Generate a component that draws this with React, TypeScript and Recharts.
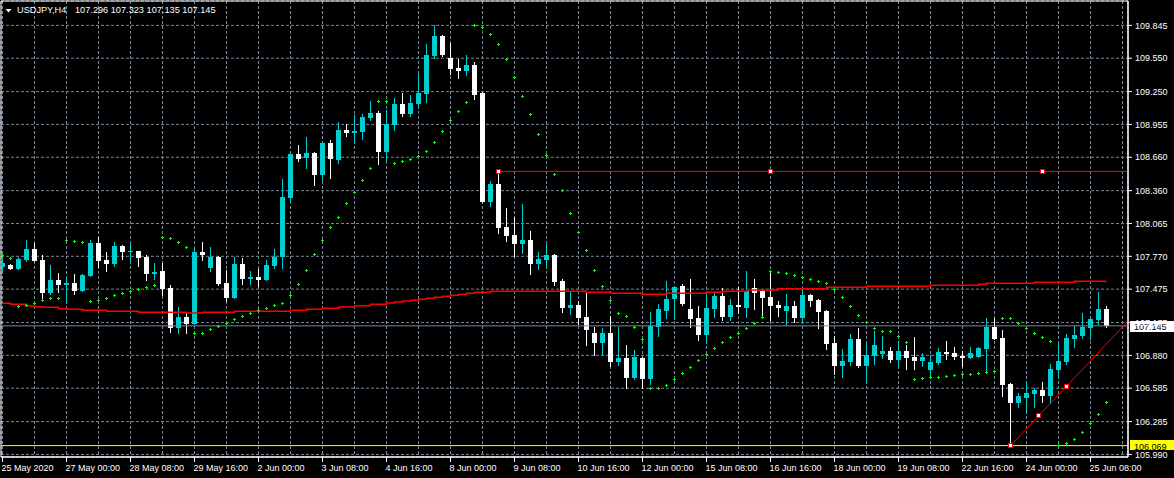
import React from 'react';
import {
  ComposedChart, Bar, Line, Scatter, XAxis, YAxis, CartesianGrid,
  ReferenceLine, ReferenceDot, ReferenceArea,
} from 'recharts';

// ---------- data (USDJPY, H4) ----------
const opens = [
  107.671, 107.692, 107.656, 107.737, 107.836, 107.737, 107.437, 107.557, 107.515, 107.533,
  107.458, 107.596, 107.893, 107.737, 107.701, 107.863, 107.809, 107.818, 107.767, 107.614,
  107.638, 107.485, 107.126, 107.224, 107.165, 107.809, 107.668, 107.767, 107.533, 107.398,
  107.701, 107.566, 107.584, 107.557, 107.683, 107.767, 108.297, 108.689, 108.656, 108.698,
  108.501, 108.788, 108.635, 108.905, 108.878, 108.887, 109.013, 109.058, 108.707, 108.950,
  109.139, 109.049, 109.139, 109.228, 109.570, 109.750, 109.552, 109.462, 109.435, 109.489,
  109.237, 108.261, 108.420, 108.033, 107.961, 107.883, 107.917, 107.704, 107.740, 107.782,
  107.548, 107.306, 107.333, 107.221, 107.084, 106.994, 107.084, 106.823, 106.859, 106.673,
  106.859, 106.664, 107.138, 107.283, 107.387, 107.503, 107.297, 107.216, 107.063, 107.297,
  107.414, 107.225, 107.333, 107.306, 107.485, 107.458, 107.404, 107.333, 107.279, 107.324,
  107.216, 107.422, 107.378, 107.279, 106.991, 106.785, 106.820, 107.027, 106.785, 106.874,
  106.892, 106.919, 106.838, 106.919, 106.865, 106.829, 106.749, 106.811, 106.910, 106.901,
  106.874, 106.856, 106.865, 106.940, 107.138, 107.036, 106.623, 106.452, 106.497, 106.533,
  106.569, 106.515, 106.749, 106.820, 107.027, 107.054, 107.126, 107.198, 107.296,
];
const highs = [
  107.746, 107.697, 107.767, 107.917, 107.893, 107.782, 107.692, 107.623, 107.587, 107.611,
  107.607, 107.917, 107.947, 107.809, 107.899, 107.872, 107.893, 107.822, 107.782, 107.713,
  107.713, 107.512, 107.318, 107.260, 107.842, 107.896, 107.857, 107.773, 107.647, 107.767,
  107.755, 107.638, 107.656, 107.737, 107.839, 108.465, 108.695, 108.770, 108.842, 108.703,
  108.793, 108.815, 108.977, 108.959, 109.040, 109.049, 109.166, 109.076, 109.085, 109.193,
  109.237, 109.220, 109.417, 109.678, 109.848, 109.759, 109.687, 109.543, 109.579, 109.516,
  109.246, 108.447, 108.534, 108.204, 108.123, 108.240, 107.998, 107.809, 107.881, 107.791,
  107.566, 107.450, 107.369, 107.443, 107.138, 107.129, 107.237, 107.138, 106.976, 106.925,
  106.865, 107.270, 107.345, 107.551, 107.503, 107.521, 107.566, 107.324, 107.449, 107.449,
  107.485, 107.387, 107.494, 107.638, 107.566, 107.467, 107.638, 107.369, 107.431, 107.369,
  107.467, 107.431, 107.382, 107.288, 107.054, 106.937, 107.072, 107.126, 106.991, 107.099,
  107.054, 106.955, 107.000, 106.973, 107.045, 106.901, 106.883, 106.946, 107.009, 106.955,
  106.919, 106.955, 106.955, 107.216, 107.216, 107.108, 106.632, 106.542, 106.641, 106.587,
  106.641, 106.803, 106.982, 107.072, 107.144, 107.261, 107.216, 107.449, 107.323,
];
const lows = [
  107.647, 107.652, 107.652, 107.728, 107.724, 107.392, 107.431, 107.452, 107.356, 107.428,
  107.454, 107.593, 107.671, 107.641, 107.683, 107.749, 107.707, 107.683, 107.560, 107.566,
  107.422, 107.093, 107.077, 107.077, 107.162, 107.737, 107.641, 107.512, 107.372, 107.395,
  107.521, 107.521, 107.500, 107.553, 107.662, 107.668, 108.255, 108.626, 108.567, 108.414,
  108.456, 108.474, 108.608, 108.854, 108.791, 108.824, 108.995, 108.599, 108.635, 108.905,
  109.031, 109.031, 109.112, 109.157, 109.552, 109.570, 109.408, 109.372, 109.399, 109.184,
  108.258, 108.225, 107.982, 107.910, 107.776, 107.803, 107.614, 107.659, 107.677, 107.515,
  107.270, 107.252, 107.158, 106.976, 106.886, 106.886, 106.787, 106.796, 106.587, 106.668,
  106.583, 106.626, 107.057, 107.212, 107.207, 107.333, 107.138, 107.018, 106.991, 107.225,
  107.198, 107.198, 107.261, 107.225, 107.297, 107.243, 107.198, 107.234, 107.153, 107.180,
  107.180, 107.324, 107.126, 106.937, 106.713, 106.686, 106.793, 106.775, 106.641, 106.802,
  106.856, 106.820, 106.784, 106.757, 106.757, 106.784, 106.694, 106.806, 106.847, 106.847,
  106.784, 106.852, 106.861, 106.734, 107.023, 106.515, 106.069, 106.416, 106.362, 106.416,
  106.461, 106.452, 106.686, 106.803, 106.955, 107.036, 107.027, 107.162, 107.135,
];
const closes = [
  107.707, 107.656, 107.746, 107.836, 107.728, 107.443, 107.557, 107.512, 107.533, 107.461,
  107.602, 107.887, 107.728, 107.701, 107.863, 107.809, 107.818, 107.758, 107.614, 107.629,
  107.476, 107.126, 107.224, 107.165, 107.809, 107.785, 107.767, 107.521, 107.398, 107.701,
  107.566, 107.584, 107.557, 107.692, 107.767, 108.303, 108.689, 108.644, 108.698, 108.503,
  108.788, 108.644, 108.905, 108.878, 108.896, 109.022, 109.058, 108.707, 108.959, 109.139,
  109.049, 109.148, 109.237, 109.579, 109.750, 109.579, 109.453, 109.435, 109.489, 109.220,
  108.261, 108.420, 108.027, 107.955, 107.883, 107.917, 107.704, 107.746, 107.782, 107.542,
  107.306, 107.333, 107.212, 107.111, 106.994, 107.084, 106.823, 106.859, 106.673, 106.868,
  106.664, 107.147, 107.301, 107.390, 107.494, 107.342, 107.207, 107.063, 107.306, 107.414,
  107.225, 107.333, 107.315, 107.458, 107.440, 107.395, 107.324, 107.306, 107.324, 107.216,
  107.422, 107.369, 107.270, 106.982, 106.785, 106.829, 107.027, 106.785, 106.883, 106.973,
  106.919, 106.838, 106.919, 106.856, 106.829, 106.865, 106.820, 106.910, 106.892, 106.865,
  106.856, 106.901, 106.946, 107.138, 107.027, 106.614, 106.452, 106.515, 106.542, 106.569,
  106.515, 106.758, 106.829, 107.036, 107.063, 107.135, 107.207, 107.297, 107.145,
];
const sarValues = [
  107.773, 107.748, 107.321, 107.330, 107.348, 107.372, 107.389, 107.389, 107.914, 107.905,
  107.896, 107.360, 107.375, 107.389, 107.420, 107.438, 107.456, 107.474, 107.492, 107.510,
  107.941, 107.932, 107.896, 107.851, 107.078, 107.078, 107.114, 107.141, 107.168, 107.204,
  107.231, 107.258, 107.285, 107.303, 107.330, 107.348, 107.420, 107.519, 107.644, 107.788,
  107.914, 108.031, 108.121, 108.246, 108.345, 108.453, 108.561, 109.163, 109.163, 108.606,
  108.624, 108.642, 108.669, 108.714, 108.794, 108.893, 108.992, 109.073, 109.154, 109.846,
  109.828, 109.765, 109.675, 109.540, 109.378, 109.210, 109.040, 108.860, 108.680, 108.507,
  108.357, 108.157, 107.980, 107.818, 107.644, 107.500, 107.375, 107.258, 107.231, 107.132,
  107.024, 106.584, 106.584, 106.611, 106.665, 106.719, 106.773, 106.836, 106.886, 106.944,
  106.998, 107.043, 107.078, 107.123, 107.168, 107.222, 107.635, 107.626, 107.617, 107.599,
  107.581, 107.563, 107.545, 107.527, 107.473, 107.402, 107.321, 107.240, 107.177, 107.123,
  107.096, 107.096, 107.051, 106.997, 106.665, 106.674, 106.683, 106.683, 106.692, 106.701,
  106.710, 106.710, 106.719, 106.728, 106.737, 107.213, 107.213, 107.168, 107.123, 107.078,
  107.042, 107.006, 106.072, 106.090, 106.126, 106.189, 106.270, 106.351, 106.458,
];
const maValues = [
  107.348, 107.339, 107.339, 107.324, 107.317, 107.312, 107.312, 107.299, 107.294, 107.294,
  107.285, 107.285, 107.285, 107.276, 107.276, 107.276, 107.276, 107.267, 107.267, 107.267,
  107.267, 107.267, 107.267, 107.261, 107.261, 107.267, 107.267, 107.267, 107.267, 107.276,
  107.276, 107.276, 107.276, 107.276, 107.276, 107.276, 107.285, 107.285, 107.294, 107.294,
  107.303, 107.303, 107.315, 107.315, 107.326, 107.326, 107.339, 107.339, 107.351, 107.360,
  107.369, 107.375, 107.384, 107.393, 107.402, 107.411, 107.420, 107.429, 107.438, 107.447,
  107.447, 107.456, 107.456, 107.456, 107.456, 107.456, 107.456, 107.456, 107.456, 107.456,
  107.456, 107.456, 107.456, 107.447, 107.447, 107.447, 107.438, 107.438, 107.438, 107.438,
  107.429, 107.429, 107.429, 107.438, 107.438, 107.438, 107.438, 107.438, 107.447, 107.447,
  107.456, 107.456, 107.456, 107.468, 107.468, 107.468, 107.468, 107.479, 107.479, 107.479,
  107.479, 107.479, 107.479, 107.491, 107.491, 107.491, 107.491, 107.491, 107.500, 107.500,
  107.500, 107.500, 107.500, 107.500, 107.500, 107.500, 107.509, 107.509, 107.509, 107.509,
  107.509, 107.509, 107.518, 107.527, 107.527, 107.527, 107.527, 107.527, 107.527, 107.536,
  107.536, 107.536, 107.536, 107.536, 107.545, 107.545, 107.545, 107.545, 107.545,
];

const labelBars = [0, 8, 16, 24, 32, 40, 48, 56, 64, 72, 80, 88, 96, 104, 112, 120, 128, 136];
const labelTexts = [
  '25 May 2020', '27 May 00:00', '28 May 08:00', '29 May 16:00', '2 Jun 00:00', '3 Jun 08:00',
  '4 Jun 16:00', '8 Jun 00:00', '9 Jun 08:00', '10 Jun 16:00', '12 Jun 00:00', '15 Jun 08:00',
  '16 Jun 16:00', '18 Jun 00:00', '19 Jun 08:00', '22 Jun 16:00', '24 Jun 00:00', '25 Jun 08:00',
];
const gridBars = [
  0, 4, 8, 12, 16, 20, 24, 28, 32, 36, 40, 44, 48, 52, 56, 60, 64, 68, 72, 76, 80, 84,
  88, 92, 96, 100, 104, 108, 112, 116, 120, 124, 128, 132, 136, 140,
];
const priceTicks = [
  109.845, 109.55, 109.25, 108.955, 108.66, 108.36, 108.065, 107.77, 107.475,
  107.175, 106.88, 106.585, 106.285, 105.99,
];

const SYMBOL = 'USDJPY,H4';
const BID_PRICE = 107.145;
const LOW_LEVEL = 106.069;
const hLine = { startBar: 62, midBar: 96, endBar: 130, price: 108.533 };
const trend = { startBar: 126, startPrice: 106.069, endBar: 133, endPrice: 106.602 };

// ---------- layout / style ----------
const W = 1174;
const H = 478;
const X_MIN = -0.1875;
const X_MAX = 140.6875;
const Y_MIN = 105.9668;
const Y_MAX = 110.0639;
const FONT = '"Liberation Sans", Arial, sans-serif';
const TEAL = '#00ced1';
const WHITE = '#ffffff';
const LIME = '#00ff00';
const GRID = '#778899';
const RED = '#ff0000';

const data = opens.map((o, i) => ({
  i,
  o,
  h: highs[i],
  l: lows[i],
  c: closes[i],
  range: [lows[i], highs[i]],
  sar: sarValues[i],
  ma: maValues[i],
}));

const trendSlope = (trend.endPrice - trend.startPrice) / (trend.endBar - trend.startBar);
const trendRayPrice = trend.startPrice + trendSlope * (X_MAX - trend.startBar);
const trendMidBar = (trend.startBar + trend.endBar) / 2;
const trendMidPrice = (trend.startPrice + trend.endPrice) / 2;

const Candle = (props: any) => {
  const { x, y, width, height, payload } = props;
  if (x == null || y == null || !payload) return <g />;
  const top = Math.min(y, y + height);
  const bot = Math.max(y, y + height);
  const { o, h, l, c } = payload;
  const span = h - l;
  const k = span > 0 ? (bot - top) / span : 0;
  const yo = top + (h - o) * k;
  const yc = top + (h - c) * k;
  const cx = Math.floor(x + width / 2);
  const color = c >= o ? TEAL : WHITE;
  const wTop = Math.round(top);
  const wBot = Math.round(bot);
  const bTop = Math.round(Math.min(yo, yc));
  const bBot = Math.round(Math.max(yo, yc));
  return (
    <g>
      <rect x={cx} y={wTop} width={1} height={Math.max(1, wBot - wTop + 1)} fill={color} />
      <rect x={cx - 2} y={bTop} width={5} height={Math.max(1, bBot - bTop)} fill={color} />
    </g>
  );
};

const SarPlus = (props: any) => {
  const { cx, cy } = props;
  if (cx == null || cy == null) return <g />;
  const px = Math.floor(cx);
  const py = Math.floor(cy);
  return (
    <g>
      <rect x={px - 1} y={py} width={3} height={1} fill={LIME} />
      <rect x={px} y={py - 1} width={1} height={3} fill={LIME} />
    </g>
  );
};

const Square = (props: any) => {
  const { cx, cy } = props;
  if (cx == null || cy == null) return <g />;
  const px = Math.floor(cx);
  const py = Math.floor(cy);
  return <rect x={px - 1.5} y={py - 1.5} width={4} height={4} fill="#ffffff" stroke={RED} strokeWidth={1} />;
};

const XTick = (props: any) => {
  const { x, y, payload } = props;
  const idx = labelBars.indexOf(payload.value);
  if (idx < 0) return <g />;
  const px = Math.floor(x) + 0.5;
  return (
    <g>
      <line x1={px} x2={px} y1={y} y2={y + 5} stroke="#fff" strokeWidth={1} />
      <text x={px - 1} y={y + 14} fill="#fff" fontSize={9} fontFamily={FONT} textAnchor="start">
        {labelTexts[idx]}
      </text>
    </g>
  );
};

const PriceTag = (bg: string, text: string, above: number, below: number) => (props: any) => {
  const vb = props.viewBox || {};
  const right = (vb.x || 0) + (vb.width || 0);
  const yy = Math.round(vb.y || 0);
  return (
    <g>
      <rect x={right + 2} y={yy - above} width={W - right - 2} height={above + below} fill={bg} />
      <text x={right + 6} y={yy + 3.5} fill="#000" fontSize={9} fontFamily={FONT} textAnchor="start">
        {text}
      </text>
    </g>
  );
};

export default function App() {
  const last = data.length - 1;
  const ohlcText = [opens[last], highs[last], lows[last], closes[last]].map((v) => v.toFixed(3)).join(' ');
  return (
    <div style={{ position: 'absolute', left: 0, top: 0, width: W, height: H, background: '#000', overflow: 'hidden' }}>
      <ComposedChart width={W} height={H} data={data} margin={{ top: 1, right: 0, bottom: 0, left: 1 }}>
        <CartesianGrid stroke={GRID} strokeDasharray="3 2" strokeWidth={1} />
        <XAxis
          dataKey="i"
          type="number"
          domain={[X_MIN, X_MAX]}
          allowDataOverflow
          ticks={gridBars}
          interval={0}
          height={21}
          tickSize={0}
          tickMargin={0}
          tickLine={false}
          axisLine={{ stroke: '#fff' }}
          tick={(p: any) => <XTick {...p} />}
        />
        <YAxis
          orientation="right"
          type="number"
          domain={[Y_MIN, Y_MAX]}
          allowDataOverflow
          ticks={priceTicks}
          interval={0}
          width={46}
          tickSize={4}
          tickMargin={3}
          tickLine={{ stroke: '#fff' }}
          axisLine={{ stroke: '#fff' }}
          tick={{ fill: '#fff', fontSize: 9, fontFamily: FONT }}
          tickFormatter={(v: number) => v.toFixed(3)}
        />
        <ReferenceLine y={BID_PRICE} stroke={GRID} strokeWidth={1} label={PriceTag('#ffffff', BID_PRICE.toFixed(3), 5, 6)} />
        <ReferenceLine y={LOW_LEVEL} stroke="#ffff00" strokeWidth={1} label={PriceTag('#ffff00', LOW_LEVEL.toFixed(3), 6, 4)} />
        <Line dataKey="ma" type="stepAfter" stroke={RED} strokeWidth={1.5} dot={false} activeDot={false} isAnimationActive={false} />
        <Bar dataKey="range" barSize={5} shape={(p: any) => <Candle {...p} />} isAnimationActive={false} />
        <Scatter dataKey="sar" shape={(p: any) => <SarPlus {...p} />} isAnimationActive={false} />
        <ReferenceLine
          segment={[{ x: hLine.startBar, y: hLine.price }, { x: X_MAX, y: hLine.price }]}
          stroke={RED}
          strokeWidth={1}
        />
        <ReferenceLine
          segment={[{ x: trend.startBar, y: trend.startPrice }, { x: X_MAX, y: trendRayPrice }]}
          stroke={RED}
          strokeWidth={1}
        />
        <ReferenceDot x={hLine.startBar} y={hLine.price} r={2} shape={(p: any) => <Square {...p} />} />
        <ReferenceDot x={hLine.midBar} y={hLine.price} r={2} shape={(p: any) => <Square {...p} />} />
        <ReferenceDot x={hLine.endBar} y={hLine.price} r={2} shape={(p: any) => <Square {...p} />} />
        <ReferenceDot x={trend.startBar} y={trend.startPrice} r={2} shape={(p: any) => <Square {...p} />} />
        <ReferenceDot x={trendMidBar} y={trendMidPrice} r={2} shape={(p: any) => <Square {...p} />} />
        <ReferenceDot x={trend.endBar} y={trend.endPrice} r={2} shape={(p: any) => <Square {...p} />} />
        <ReferenceArea x1={X_MIN} x2={X_MAX} y1={Y_MIN} y2={Y_MAX} fill="none" fillOpacity={0} stroke="#fff" strokeWidth={1} ifOverflow="visible" />
      </ComposedChart>
      <svg style={{ position: 'absolute', left: 0, top: 0 }} width={16} height={16}>
        <polygon points="5.5,9 11.5,9 8.5,12.5" fill="#fff" />
      </svg>
      <div style={{ position: 'absolute', left: 17, top: 5, color: '#fff', fontFamily: FONT, fontSize: 9.2, lineHeight: '10px', whiteSpace: 'pre' }}>
        {SYMBOL}
      </div>
      <div style={{ position: 'absolute', left: 75, top: 5, color: '#fff', fontFamily: FONT, fontSize: 9.2, lineHeight: '10px', whiteSpace: 'pre' }}>
        {ohlcText}
      </div>
    </div>
  );
}
